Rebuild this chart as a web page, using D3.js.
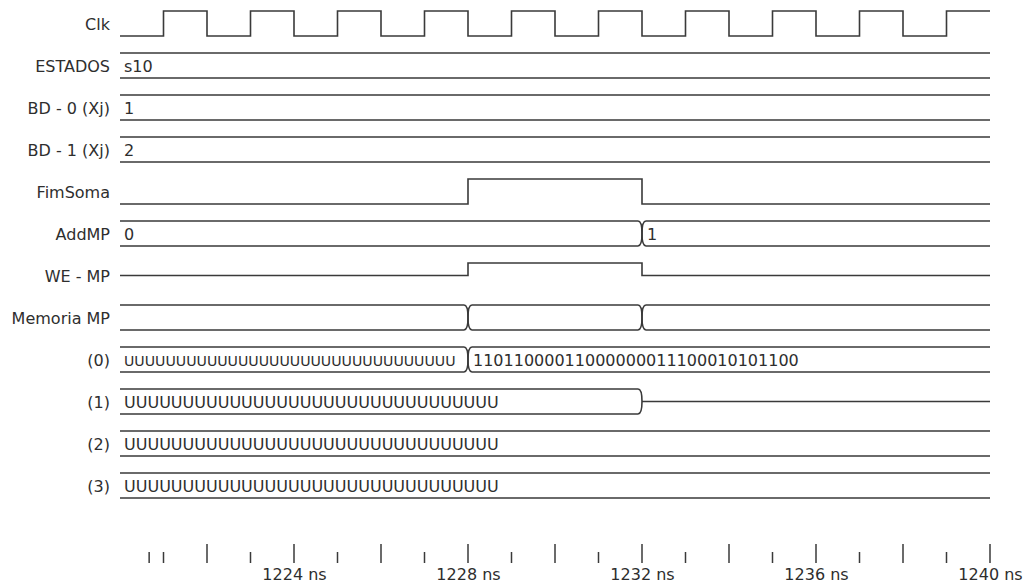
<!DOCTYPE html>
<html>
<head>
<meta charset="utf-8">
<script src="https://cdn.jsdelivr.net/npm/d3@7"></script>
<style>
  html, body { margin: 0; padding: 0; background: #ffffff; }
  svg { display: block; }
  text { font-family: "DejaVu Sans", Verdana, sans-serif; fill: #2e2e2e; }
</style>
</head>
<body>
<svg id="wave" width="1030" height="586"></svg>
<script>
// ---- simulation data (ns) ----
const signalNames = ["Clk", "ESTADOS", "BD - 0 (Xj)", "BD - 1 (Xj)", "FimSoma", "AddMP",
                     "WE - MP", "Memoria MP", "(0)", "(1)", "(2)", "(3)"];
const timeRange = [1220, 1240];

// single-bit signals: [time, level] change points
const clkChanges = [[1220, 0], [1221, 1], [1222, 0], [1223, 1], [1224, 0], [1225, 1], [1226, 0],
                    [1227, 1], [1228, 0], [1229, 1], [1230, 0], [1231, 1], [1232, 0], [1233, 1],
                    [1234, 0], [1235, 1], [1236, 0], [1237, 1], [1238, 0], [1239, 1], [1240, 1]];
const fimSomaChanges = [[1220, 0], [1228, 1], [1232, 0], [1240, 0]];
const weMpChanges = [[1220, 0], [1228, 1], [1232, 0], [1240, 0]];

// bus signals: [start, end, value]  (value null = high impedance)
const estadosSegments = [[1220, 1240, "s10"]];
const bd0Segments = [[1220, 1240, "1"]];
const bd1Segments = [[1220, 1240, "2"]];
const addMpSegments = [[1220, 1232, "0"], [1232, 1240, "1"]];
const memoriaSegments = [[1220, 1228, ""], [1228, 1232, ""], [1232, 1240, ""]];
const mem0Segments = [[1220, 1228, "UUUUUUUUUUUUUUUUUUUUUUUUUUUUUUUU"],
                      [1228, 1240, "11011000011000000011100010101100"]];
const mem1Segments = [[1220, 1232, "UUUUUUUUUUUUUUUUUUUUUUUUUUUUUUUU"], [1232, 1240, null]];
const mem2Segments = [[1220, 1240, "UUUUUUUUUUUUUUUUUUUUUUUUUUUUUUUU"]];
const mem3Segments = [[1220, 1240, "UUUUUUUUUUUUUUUUUUUUUUUUUUUUUUUU"]];

// time axis
const majorTicks = [1222, 1224, 1226, 1228, 1230, 1232, 1234, 1236, 1238, 1240];
const minorTicks = [1220.67, 1221, 1223, 1225, 1227, 1229, 1231, 1233, 1235, 1237, 1239];
const labelTicks = [1224, 1228, 1232, 1236, 1240];

// ---- layout ----
const svg = d3.select("#wave");
const ink = "#3a3a3a";
const fontSize = 16;

const x = d3.scaleLinear().domain(timeRange).range([120, 990]);
const pad = 0.405;
const y = d3.scaleBand().domain(signalNames)
  .range([11, 11 + 42 * (signalNames.length - pad)])
  .paddingInner(pad).paddingOuter(0);
const h = y.bandwidth();

// per-row waveform kind
const rows = [
  { name: "Clk", bits: clkChanges },
  { name: "ESTADOS", bus: estadosSegments },
  { name: "BD - 0 (Xj)", bus: bd0Segments },
  { name: "BD - 1 (Xj)", bus: bd1Segments },
  { name: "FimSoma", bits: fimSomaChanges },
  { name: "AddMP", bus: addMpSegments },
  { name: "WE - MP", bits: weMpChanges, lowAtMid: true },
  { name: "Memoria MP", bus: memoriaSegments },
  { name: "(0)", bus: mem0Segments },
  { name: "(1)", bus: mem1Segments },
  { name: "(2)", bus: mem2Segments },
  { name: "(3)", bus: mem3Segments }
];

// signal names
svg.append("g").selectAll("text").data(signalNames).join("text")
  .attr("x", 110)
  .attr("y", d => y(d) + h / 2 + 1)
  .attr("dy", "0.36em")
  .attr("text-anchor", "end")
  .style("font-size", fontSize + "px")
  .text(d => d);

const waves = svg.append("g")
  .attr("fill", "none")
  .attr("stroke", ink)
  .attr("stroke-width", 1.6);

const taper = 4;

rows.forEach(r => {
  const top = y(r.name), bot = top + h, mid = top + h / 2;
  if (r.bits) {
    const low = r.lowAtMid ? mid : bot;
    const line = d3.line()
      .x(d => x(d[0]))
      .y(d => d[1] ? top : low)
      .curve(d3.curveStepAfter);
    waves.append("path").attr("d", line(r.bits));
  } else {
    r.bus.forEach((seg, i) => {
      const x0 = x(seg[0]), x1 = x(seg[1]);
      const st = seg[0] > timeRange[0];
      const et = seg[1] < timeRange[1];
      if (seg[2] === null) {
        waves.append("path").attr("d", `M${x0},${mid}L${x1},${mid}`);
        return;
      }
      const p = d3.path();
      // upper rail
      if (st) { p.moveTo(x0, mid); p.quadraticCurveTo(x0, top, x0 + taper, top); }
      else p.moveTo(x0, top);
      if (et) { p.lineTo(x1 - taper, top); p.quadraticCurveTo(x1, top, x1, mid); }
      else p.lineTo(x1, top);
      // lower rail
      if (st) { p.moveTo(x0, mid); p.quadraticCurveTo(x0, bot, x0 + taper, bot); }
      else p.moveTo(x0, bot);
      if (et) { p.lineTo(x1 - taper, bot); p.quadraticCurveTo(x1, bot, x1, mid); }
      else p.lineTo(x1, bot);
      waves.append("path").attr("d", p.toString());

      if (seg[2]) {
        const tx = x0 + (st ? 5 : 4);
        const t = svg.append("text")
          .attr("x", tx)
          .attr("y", mid + 1)
          .attr("dy", "0.36em")
          .style("font-size", fontSize + "px")
          .text(seg[2]);
        const avail = x1 - tx - 12;
        const len = t.node().getComputedTextLength();
        if (len > avail) t.style("font-size", (fontSize * avail / len) + "px");
      }
    });
  }
});

// time axis: tall ticks on even ns, short ticks between, labels every 4 ns
const axisY = 563;
const tickG = svg.append("g").attr("stroke", ink).attr("stroke-width", 1.5);
tickG.selectAll("line.major").data(majorTicks).join("line")
  .attr("class", "major")
  .attr("x1", d => x(d)).attr("x2", d => x(d))
  .attr("y1", axisY - 19).attr("y2", axisY);
tickG.selectAll("line.minor").data(minorTicks).join("line")
  .attr("class", "minor")
  .attr("x1", d => x(d)).attr("x2", d => x(d))
  .attr("y1", axisY - 11).attr("y2", axisY);

const axis = d3.axisBottom(x)
  .tickValues(labelTicks)
  .tickSize(0)
  .tickPadding(6)
  .tickFormat(d => d + " ns");
const ag = svg.append("g").attr("transform", `translate(0,${axisY})`).call(axis);
ag.select(".domain").remove();
ag.selectAll("text")
  .style("font-size", fontSize + "px")
  .style("font-family", '"DejaVu Sans", Verdana, sans-serif')
  .attr("fill", "#2e2e2e");
</script>
</body>
</html>
